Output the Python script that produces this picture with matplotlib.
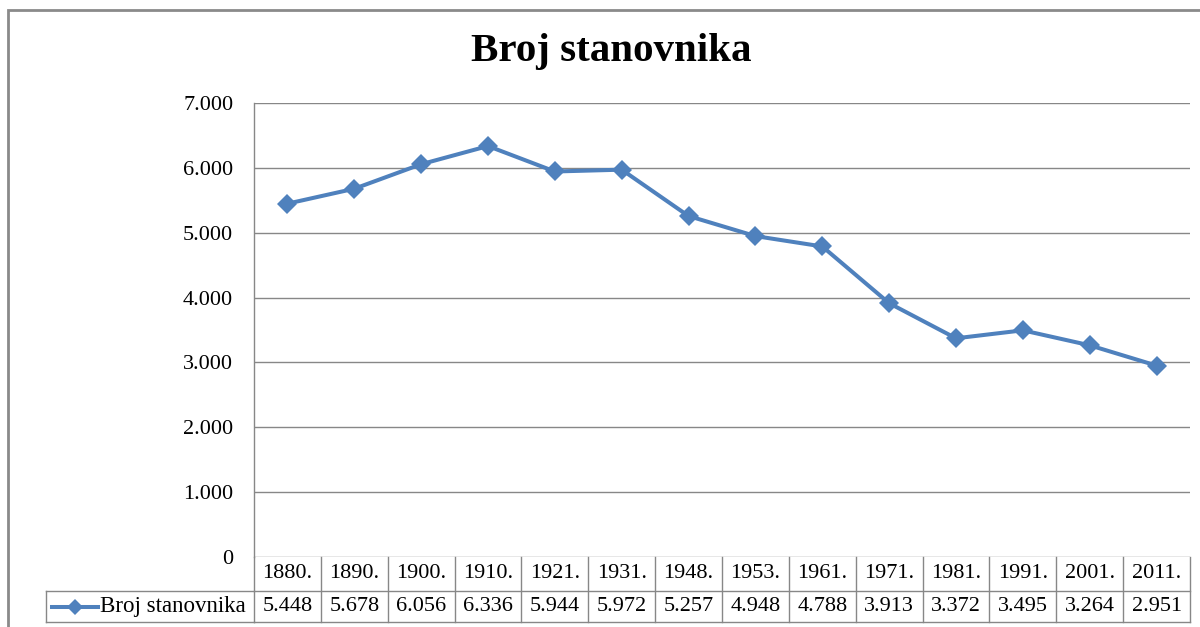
import matplotlib
matplotlib.use("Agg")
import matplotlib.pyplot as plt
from matplotlib.lines import Line2D
from matplotlib.patches import Rectangle
from matplotlib.ticker import FuncFormatter
import matplotlib.transforms as mtransforms

years = ["1880.", "1890.", "1900.", "1910.", "1921.", "1931.", "1948.",
         "1953.", "1961.", "1971.", "1981.", "1991.", "2001.", "2011."]
population = [5448, 5678, 6056, 6336, 5944, 5972, 5257,
              4948, 4788, 3913, 3372, 3495, 3264, 2951]
series_name = "Broj stanovnika"
title = "Broj stanovnika"

blue = "#4F81BD"
grid_col = "#878787"
W, H = 1200, 627

plt.rcParams["font.family"] = ["Liberation Serif", "DejaVu Serif"]

fig = plt.figure(figsize=(12, 6.27), dpi=100)

# outer chart border (only left/top visible, rest cropped)
fig.add_artist(Rectangle((8 / W, -0.1), 1.2, 1 - 10 / H + 0.1,
                         transform=fig.transFigure, fill=False,
                         edgecolor="#8a8a8a", linewidth=2))

left, right, top, bottom = 254, 1190, 103, 557
ax = fig.add_axes([left / W, 1 - bottom / H, (right - left) / W, (bottom - top) / H])

x = list(range(len(years)))
ax.plot(x, population, color=blue, linewidth=2.9, marker="D",
        markersize=10, markeredgewidth=0, zorder=3)

ax.set_xlim(-0.5, len(years) - 0.5)
ax.set_ylim(0, 7000)
ax.set_yticks(range(0, 7001, 1000))
ax.yaxis.set_major_formatter(FuncFormatter(
    lambda v, p: "0" if v == 0 else f"{int(v):,}".replace(",", ".")))
ax.tick_params(axis="y", length=0, pad=15, labelsize=16)
ax.set_xticks([])
ax.grid(axis="y", color=grid_col, linewidth=1)
ax.set_axisbelow(True)
for s in ["top", "right", "bottom"]:
    ax.spines[s].set_visible(False)
ax.spines["left"].set_color(grid_col)
ax.spines["left"].set_linewidth(1)

fig.text(611 / W, 1 - 52 / H, title,
         ha="center", va="center", fontsize=29.5, fontweight="bold")

# data table under the axis
tr = mtransforms.blended_transform_factory(ax.transData, fig.transFigure)
y0 = 1 - 557 / H
y1 = 1 - 591 / H
y2 = 1 - 622 / H
lkw = dict(color=grid_col, linewidth=1, clip_on=False)
for i in range(len(years) + 1):
    fig.add_artist(Line2D([i - 0.5, i - 0.5], [y0, y2], transform=tr, **lkw))
fig.add_artist(Line2D([-0.5, len(years) - 0.5], [y1, y1], transform=tr, **lkw))
fig.add_artist(Line2D([-0.5, len(years) - 0.5], [y2, y2], transform=tr, **lkw))
# header cell of the legend row
fig.add_artist(Line2D([46 / W, left / W], [y1, y1], transform=fig.transFigure, **lkw))
fig.add_artist(Line2D([46 / W, left / W], [y2, y2], transform=fig.transFigure, **lkw))
fig.add_artist(Line2D([46 / W, 46 / W], [y1, y2], transform=fig.transFigure, **lkw))

for i, (yr, v) in enumerate(zip(years, population)):
    fig.text(i, (y0 + y1) / 2, yr, transform=tr, ha="center", va="center",
             fontsize=16)
    fig.text(i, (y1 + y2) / 2, f"{v / 1000:.3f}", transform=tr, ha="center",
             va="center", fontsize=16)

ym = (y1 + y2) / 2
fig.add_artist(Line2D([52 / W, 98 / W], [ym, ym], transform=fig.transFigure,
                      color=blue, linewidth=2.9))
fig.add_artist(Line2D([75 / W], [ym], transform=fig.transFigure, color=blue,
                      marker="D", markersize=8, markeredgewidth=0))
fig.text(100 / W, ym, series_name, ha="left", va="center", fontsize=16.5)

fig.savefig("out.png", dpi=100, facecolor="white")
